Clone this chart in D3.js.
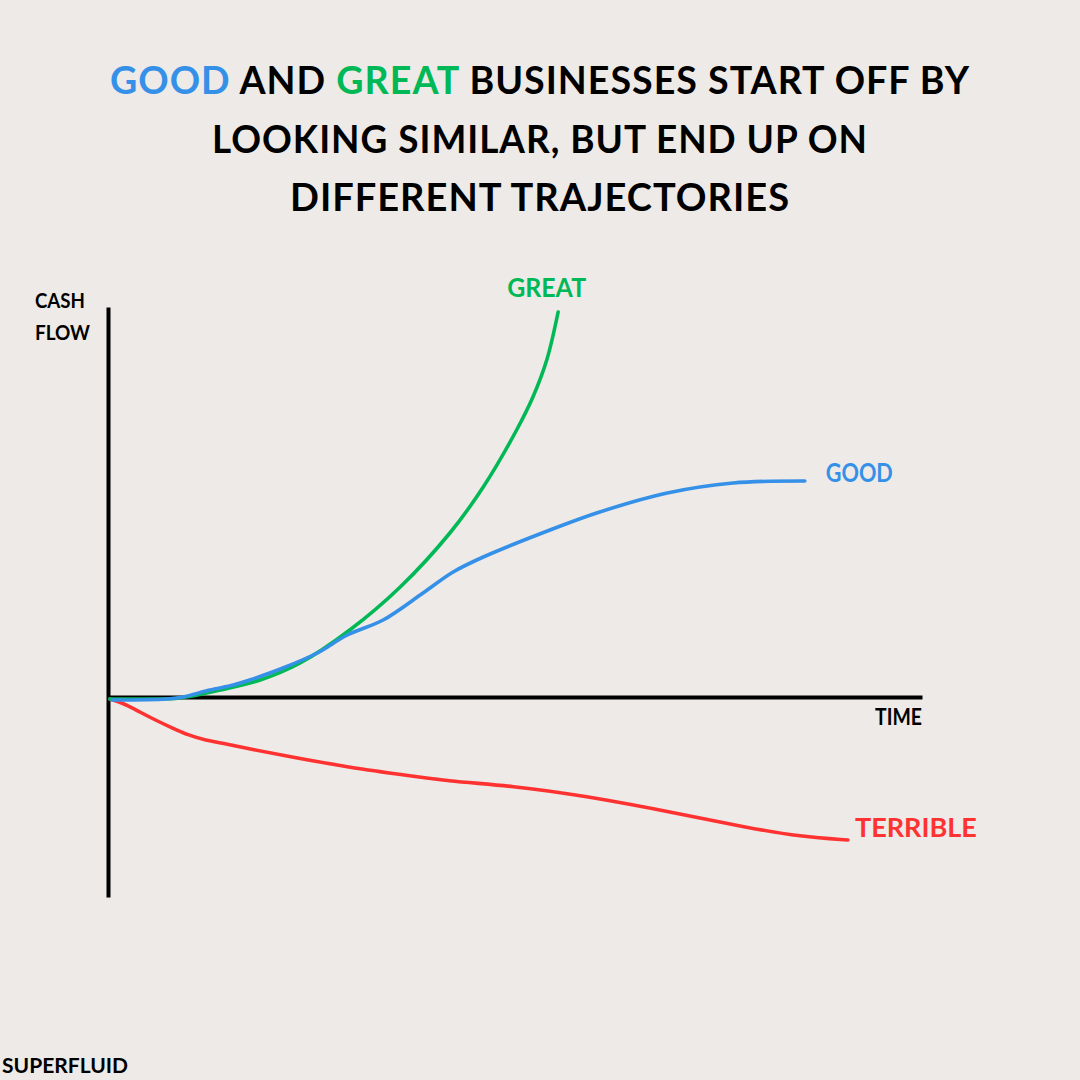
<!DOCTYPE html>
<html>
<head>
<meta charset="utf-8">
<script src="https://cdn.jsdelivr.net/npm/d3@7"></script>
<style>
  html, body { margin: 0; padding: 0; background: #EEEAE7; }
  svg { display: block; }
  text { font-family: Lato, "Noto Sans", sans-serif; font-weight: 700; }
</style>
</head>
<body>
<svg id="chart" width="1080" height="1080"></svg>
<script>
// ---- Data (time units 0..100, cash flow units) ----
const greatTime = [0.2, 5.2, 8.8, 13.8, 18.7, 23.6, 29.7, 35.9, 42.0, 46.1, 50.2, 52.2, 53.9, 55.3];
const greatCash = [-0.2, -0.2, -0.1, 0.7, 1.7, 3.4, 6.7, 11.0, 16.4, 21.0, 26.7, 30.0, 33.7, 38.5];

const goodTime = [0.5, 7.2, 9.2, 12.5, 15.4, 17.4, 21.5, 25.7, 29.4, 33.8, 38.7, 42.4, 46.1, 54.3, 60.4, 68.7, 76.8, 85.6];
const goodCash = [-0.3, -0.2, 0, 0.7, 1.2, 1.7, 2.9, 4.4, 6.2, 7.7, 10.4, 12.5, 14.0, 16.7, 18.5, 20.4, 21.4, 21.6];

const terribleTime = [0.25, 2.1, 3.9, 5.8, 7.9, 9.8, 11.9, 14.0, 17.4, 23.2, 29.4, 35.5, 41.6, 49.8, 58.0, 71.1, 78.1, 85.3, 90.9];
const terribleCash = [-0.2, -0.7, -1.5, -2.3, -3.1, -3.8, -4.3, -4.6, -5.2, -6.1, -7.0, -7.7, -8.4, -8.9, -9.8, -11.8, -13.0, -14.0, -14.3];

const seriesNames = ["GREAT", "GOOD", "TERRIBLE"];
const titleLines = [
  [["GOOD", "good"], [" AND ", "ink"], ["GREAT", "great"], [" BUSINESSES START OFF BY", "ink"]],
  [["LOOKING SIMILAR, BUT END UP ON", "ink"]],
  [["DIFFERENT TRAJECTORIES", "ink"]]
];
const xAxisLabel = "TIME";
const yAxisLabel = ["CASH", "FLOW"];
const brand = "SUPERFLUID";

// ---- Styles ----
const colors = { great: "#00B956", good: "#3590E8", terrible: "#FF3232", ink: "#000000" };

const svg = d3.select("#chart");
svg.append("rect").attr("width", 1080).attr("height", 1080).attr("fill", "#EEEAE7");

const x = d3.scaleLinear().domain([0, 100]).range([108, 922]);
const y = d3.scaleLinear().domain([-20, 39]).range([897, 307]);

// ---- Axes ----
const gx = svg.append("g")
  .attr("transform", `translate(0,${y(0)})`)
  .call(d3.axisBottom(x).tickValues([]).tickSizeOuter(0));
gx.select(".domain").attr("stroke", "#000").attr("stroke-width", 4);

const gy = svg.append("g")
  .attr("transform", `translate(${x(0)},0)`)
  .call(d3.axisLeft(y).tickValues([]).tickSizeOuter(0));
gy.select(".domain").attr("stroke", "#000").attr("stroke-width", 4);

// ---- Lines ----
const lineFor = curve => d3.line()
  .x(d => x(d[0]))
  .y(d => y(d[1]))
  .curve(curve);

const series = [
  { key: "terrible", pts: d3.zip(terribleTime, terribleCash), curve: d3.curveBasis },
  { key: "good", pts: d3.zip(goodTime, goodCash), curve: d3.curveCatmullRom.alpha(0.5) },
  { key: "great", pts: d3.zip(greatTime, greatCash), curve: d3.curveCatmullRom.alpha(0.5) }
];
// draw great before good so blue sits on top where they overlap
["terrible", "great", "good"].forEach(k => {
  const s = series.find(d => d.key === k);
  svg.append("path")
    .datum(s.pts)
    .attr("d", lineFor(s.curve))
    .attr("fill", "none")
    .attr("stroke", colors[k])
    .attr("stroke-width", 3.6)
    .attr("stroke-linecap", "round")
    .attr("stroke-linejoin", "round");
});

// ---- Series labels ----
function label(txt, px, py, size, len, fill, anchor) {
  svg.append("text")
    .attr("x", px).attr("y", py)
    .attr("font-size", size)
    .attr("fill", fill)
    .attr("text-anchor", anchor || "start")
    .attr("textLength", len)
    .attr("lengthAdjust", "spacingAndGlyphs")
    .text(txt);
}
const gEnd = series.find(d => d.key === "great").pts.slice(-1)[0];
const bEnd = series.find(d => d.key === "good").pts.slice(-1)[0];
const rEnd = series.find(d => d.key === "terrible").pts.slice(-1)[0];

label(seriesNames[0], x(gEnd[0]) - 51, y(gEnd[1]) - 15, 27, 79, colors.great);
label(seriesNames[1], x(bEnd[0]) + 21, y(bEnd[1]) + 1, 27, 67, colors.good);
label(seriesNames[2], x(rEnd[0]) + 7, y(rEnd[1]) - 3, 27, 122, colors.terrible);

// axis labels
label(xAxisLabel, 875, 725, 22, 47, colors.ink);
label(yAxisLabel[0], 35, 308, 20, 50, colors.ink);
label(yAxisLabel[1], 35, 340, 20, 55, colors.ink);

// brand
label(brand, 2, 1073, 20, 126, colors.ink);

// ---- Title ----
const titleSpecs = [
  { y: 94, x0: 110, x1: 970 },
  { y: 153, x0: 212, x1: 868 },
  { y: 211, x0: 290, x1: 790 }
];
titleLines.forEach((parts, i) => {
  const sp = titleSpecs[i];
  const t = svg.append("text")
    .attr("x", sp.x0).attr("y", sp.y)
    .attr("font-size", 38)
    .attr("letter-spacing", 1)
    .attr("textLength", sp.x1 - sp.x0)
    .attr("lengthAdjust", "spacingAndGlyphs");
  parts.forEach(([txt, c]) => {
    t.append("tspan").attr("fill", colors[c]).text(txt);
  });
});
</script>
</body>
</html>
